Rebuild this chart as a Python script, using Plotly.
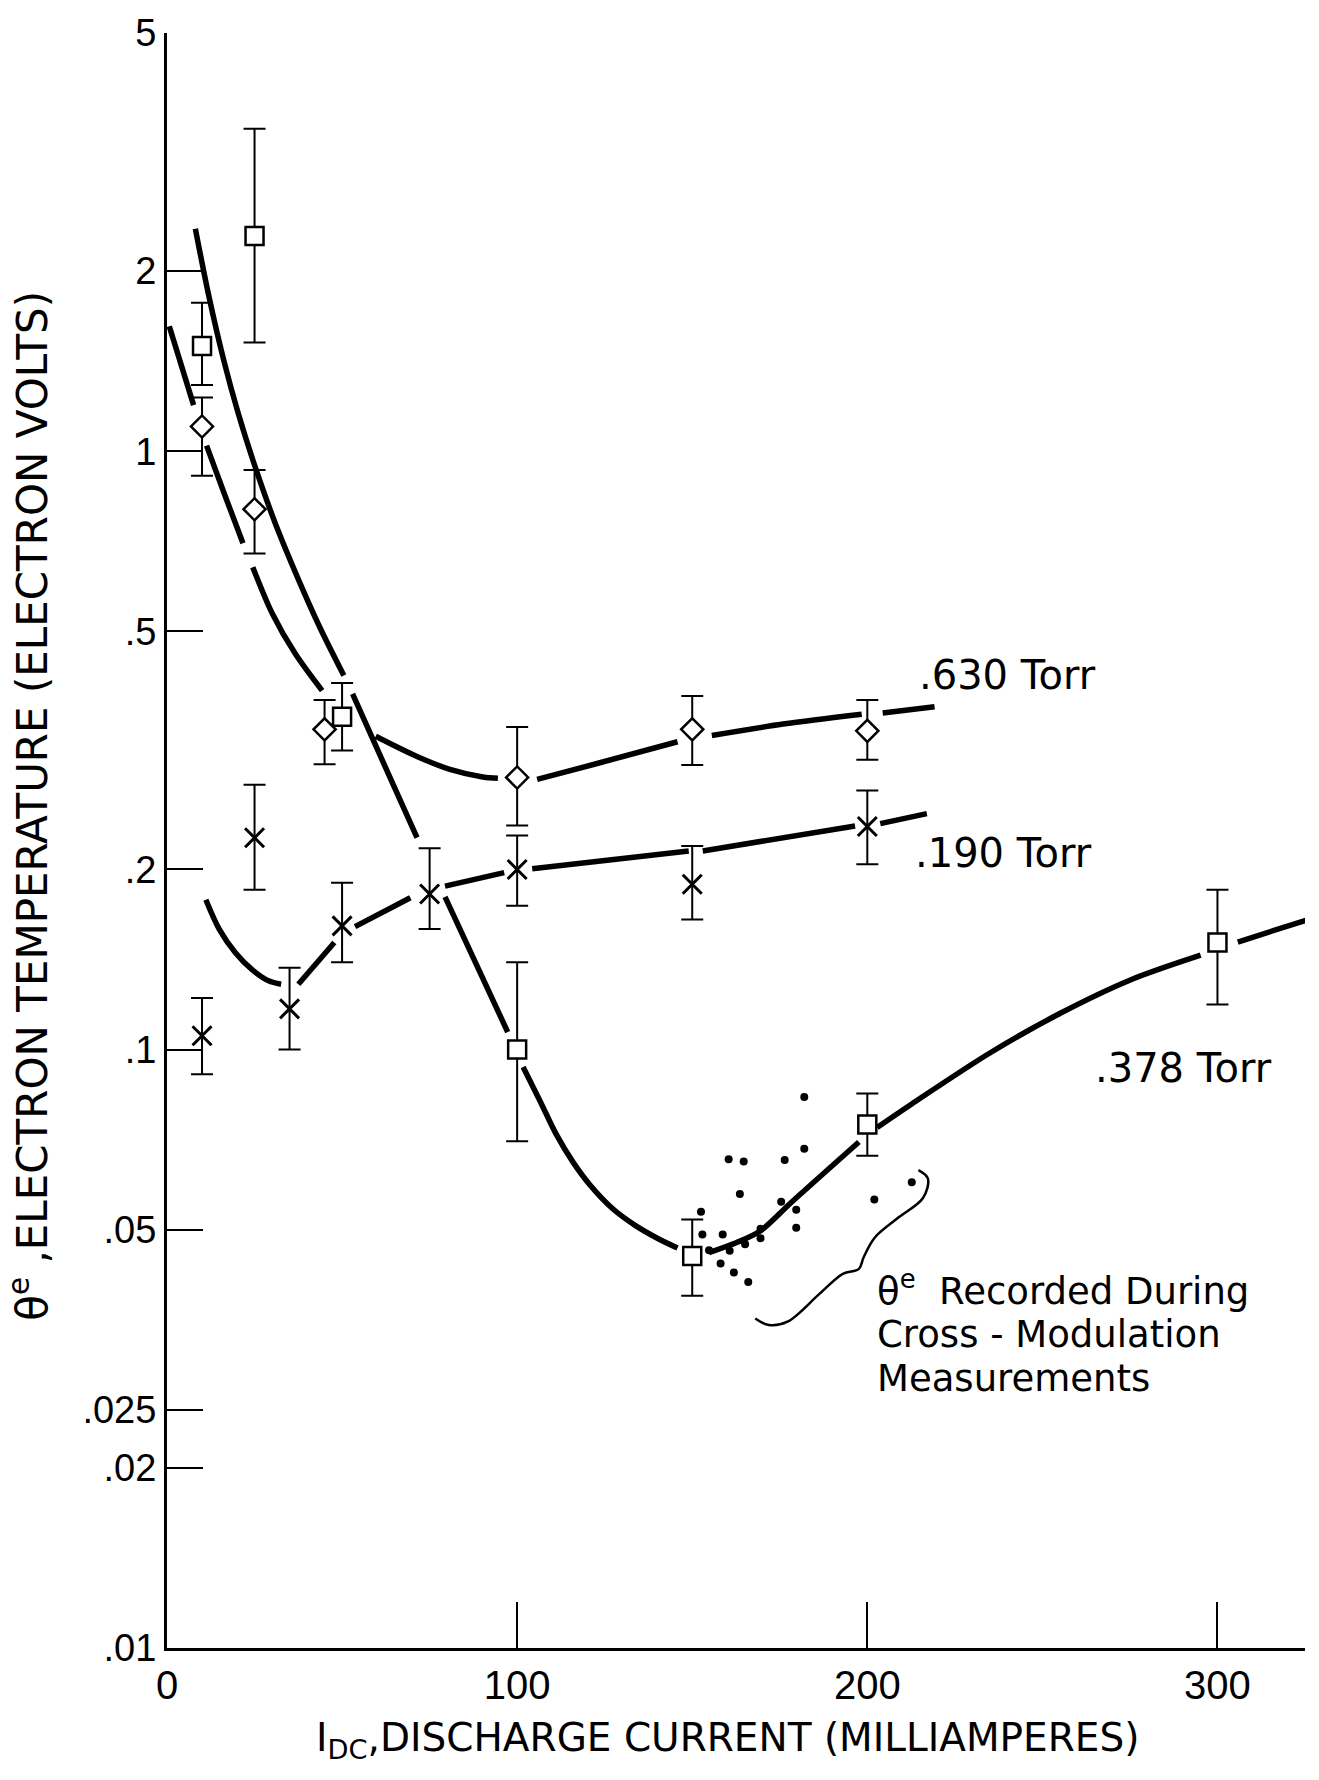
import plotly.graph_objects as go

# ---- measured points with error bars (discharge current in mA, theta_e in eV) ----
x_630 = [10, 25, 45, 100, 150, 200]
y_630 = [1.10, 0.80, 0.343, 0.285, 0.343, 0.341]
hi_630 = [1.23, 0.93, 0.384, 0.346, 0.390, 0.384]
lo_630 = [0.91, 0.675, 0.300, 0.237, 0.299, 0.305]

x_190 = [10, 25, 35, 50, 75, 100, 150, 200]
y_190 = [0.1055, 0.226, 0.117, 0.161, 0.182, 0.200, 0.189, 0.236]
hi_190 = [0.122, 0.277, 0.137, 0.190, 0.217, 0.228, 0.219, 0.271]
lo_190 = [0.091, 0.185, 0.100, 0.140, 0.159, 0.174, 0.165, 0.204]

x_378 = [10, 25, 50, 100, 150, 200, 300]
y_378 = [1.50, 2.29, 0.360, 0.100, 0.0452, 0.075, 0.151]
hi_378 = [1.77, 3.46, 0.410, 0.140, 0.052, 0.0845, 0.185]
lo_378 = [1.29, 1.52, 0.316, 0.0703, 0.0388, 0.0665, 0.119]

# ---- theta_e recorded during cross-modulation measurements ----
x_xmod = [182, 160.4, 164.7, 176.4, 182, 212.7, 163.6, 202, 175.4, 179.7, 179.7,
          152.5, 152.9, 158.7, 169.5, 169.5, 154.8, 160.7, 165.1, 158.1, 161.9, 166]
y_xmod = [0.0833, 0.0656, 0.0650, 0.0654, 0.0683, 0.0600, 0.0574, 0.0562, 0.0557,
          0.0540, 0.0504, 0.0536, 0.0491, 0.0491, 0.0502, 0.0484, 0.0462, 0.0461,
          0.0473, 0.0439, 0.0424, 0.0409]

# ---- hand-faired curves (None breaks the line around markers) ----
curve_630_x = [0.65, 7.6, None, 11.3, 16.5, 21.7, None, 24.5, 30.1, 36.6, 44.3, None,
               59.6, 71.4, 80.8, 90.2, 94.5, None, 105.7, 123.1, 145.8, None,
               155.6, 175.9, 198.4, None, 204.4, 219.2]
curve_630_y = [1.618, 1.194, None, 1.022, 0.845, 0.702, None, 0.640, 0.535, 0.459, 0.398, None,
               0.334, 0.309, 0.294, 0.2855, 0.284, None, 0.283, 0.301, 0.327, None,
               0.335, 0.350, 0.3635, None, 0.3653, 0.374]

curve_190_x = [11.1, 14.9, 19.6, 24.3, 29.0, 32.6, None, 37.5, 47.8, None, 53.7, 69.5, None,
               79.4, 96.3, None, 104.3, 123.2, 149.0, None, 153.0, 196.5, None, 203.7, 217.0]
curve_190_y = [0.178, 0.159, 0.145, 0.136, 0.1303, 0.1286, None, 0.1286, 0.151, None,
               0.1605, 0.1794, None, 0.1876, 0.1976, None, 0.2006, 0.2065, 0.2148, None,
               0.2148, 0.2365, None, 0.2386, 0.248]

curve_378_x = [8.1, 12.0, 16.2, 20.4, 25.3, 30.8, 37.3, 43.7, 50.5, None,
               53.0, 62.2, 71.4, None, 79.4, 97.3, None,
               101.7, 106.7, 111.1, 116.0, 120.8, 127.3, 133.8, 140.3, 145.8, None,
               154.8, 162.7, 169.3, 178.5, 197.6, None,
               202.8, 212.8, 235.0, 255.1, 274.8, 295.2, None, 305.8, 325.5]
curve_378_y = [2.355, 1.811, 1.420, 1.154, 0.937, 0.761, 0.615, 0.507, 0.422, None,
               0.393, 0.298, 0.226, None, 0.180, 0.107, None,
               0.0935, 0.0817, 0.0723, 0.0648, 0.0594, 0.0542, 0.0508, 0.0483, 0.0466, None,
               0.0458, 0.0476, 0.0497, 0.0557, 0.0701, None,
               0.0741, 0.0812, 0.0987, 0.115, 0.1305, 0.1438, None, 0.1513, 0.1647]

# curly brace grouping the cross-modulation points
brace_x = [168.0, 171.9, 177.2, 186.4, 193.0, 197.6, 198.9, 202.1, 208.7, 215.9, 217.3, 214.6]
brace_y = [0.03554, 0.03465, 0.0351, 0.0391, 0.0422, 0.0430, 0.0449, 0.0485, 0.0523,
           0.0565, 0.0609, 0.0629]

# axis ticks
x_ticks = [0, 100, 200, 300]
y_ticks = [5, 2, 1, 0.5, 0.2, 0.1, 0.05, 0.025, 0.02, 0.01]
y_ticktext = ["5", "2", "1", ".5", ".2", ".1", ".05", ".025", ".02", ".01"]

TICK_FONT = "Liberation Sans, Arial, sans-serif"
TEXT_FONT = "DejaVu Sans, Liberation Sans, sans-serif"
INK = "black"

fig = go.Figure()

for cx, cy in [(curve_630_x, curve_630_y), (curve_190_x, curve_190_y), (curve_378_x, curve_378_y)]:
    fig.add_trace(go.Scatter(x=cx, y=cy, mode="lines", connectgaps=False,
                             line=dict(color=INK, width=5.5, shape="spline", smoothing=0.9),
                             hoverinfo="skip", showlegend=False))


def err_trace(xs, ys, his, los, symbol, size, fill, lw=2.5):
    return go.Scatter(
        x=xs, y=ys, mode="markers", showlegend=False,
        marker=dict(symbol=symbol, size=size, color=fill,
                    line=dict(color=INK, width=lw)),
        error_y=dict(type="data", symmetric=False,
                     array=[h - y for h, y in zip(his, ys)],
                     arrayminus=[y - l for y, l in zip(ys, los)],
                     color=INK, thickness=2, width=11),
    )


fig.add_trace(err_trace(x_630, y_630, hi_630, lo_630, "diamond", 17, "white"))
fig.add_trace(err_trace(x_190, y_190, hi_190, lo_190, "x-thin", 19, INK, lw=3))
fig.add_trace(err_trace(x_378, y_378, hi_378, lo_378, "square", 18, "white"))

fig.add_trace(go.Scatter(x=x_xmod, y=y_xmod, mode="markers", showlegend=False,
                         marker=dict(symbol="circle", size=8, color=INK)))

fig.add_trace(go.Scatter(x=brace_x, y=brace_y, mode="lines", showlegend=False,
                         line=dict(color=INK, width=2.5, shape="spline", smoothing=1.0),
                         hoverinfo="skip"))

W, H = 1319, 1780
ML, MR, MT, MB = 167, 14, 22, 132
PW, PH = W - ML - MR, H - MT - MB


def px(xp, yp):
    """pixel position -> paper coordinates"""
    return (xp - ML) / PW, (H - MB - yp) / PH


annotations = []


def label(text, xp_, yp_, size, xanchor="left", angle=0):
    ax, ay = px(xp_, yp_)
    annotations.append(dict(text=text, x=ax, y=ay, xref="paper", yref="paper",
                            xanchor=xanchor, yanchor="middle", showarrow=False,
                            textangle=angle, font=dict(family=TEXT_FONT, size=size, color=INK)))


label(".630 Torr", 917, 668, 40)
label(".190 Torr", 913, 848, 40)
label(".378 Torr", 1093, 1064, 40)
label("θ<sup>e</sup>  Recorded During", 875, 1286, 37)
label("Cross - Modulation", 875, 1332, 37)
label("Measurements", 875, 1377, 37)
label("I<sub>DC</sub>,DISCHARGE CURRENT (MILLIAMPERES)", 727, 1741, 39, xanchor="center")
label("θ<sup>e</sup> ,ELECTRON TEMPERATURE (ELECTRON VOLTS)", 30, 800, 42,
      xanchor="center", angle=-90)

fig.update_layout(
    width=W, height=H,
    margin=dict(l=ML, r=MR, t=MT, b=MB),
    paper_bgcolor="white", plot_bgcolor="white",
    font=dict(family=TICK_FONT, color=INK),
    annotations=annotations,
    xaxis=dict(range=[0, 325], showgrid=False, zeroline=False,
               showline=True, linecolor=INK, linewidth=3,
               tickvals=x_ticks, ticks="inside", ticklen=46, tickwidth=2, tickcolor=INK,
               tickfont=dict(family=TICK_FONT, size=40, color=INK)),
    yaxis=dict(type="log", range=[-2, 0.69897], showgrid=False, zeroline=False,
               showline=True, linecolor=INK, linewidth=3,
               tickvals=y_ticks, ticktext=y_ticktext,
               ticks="inside", ticklen=36, tickwidth=2, tickcolor=INK,
               tickfont=dict(family=TICK_FONT, size=38, color=INK)),
)

fig.write_html("out.html")
